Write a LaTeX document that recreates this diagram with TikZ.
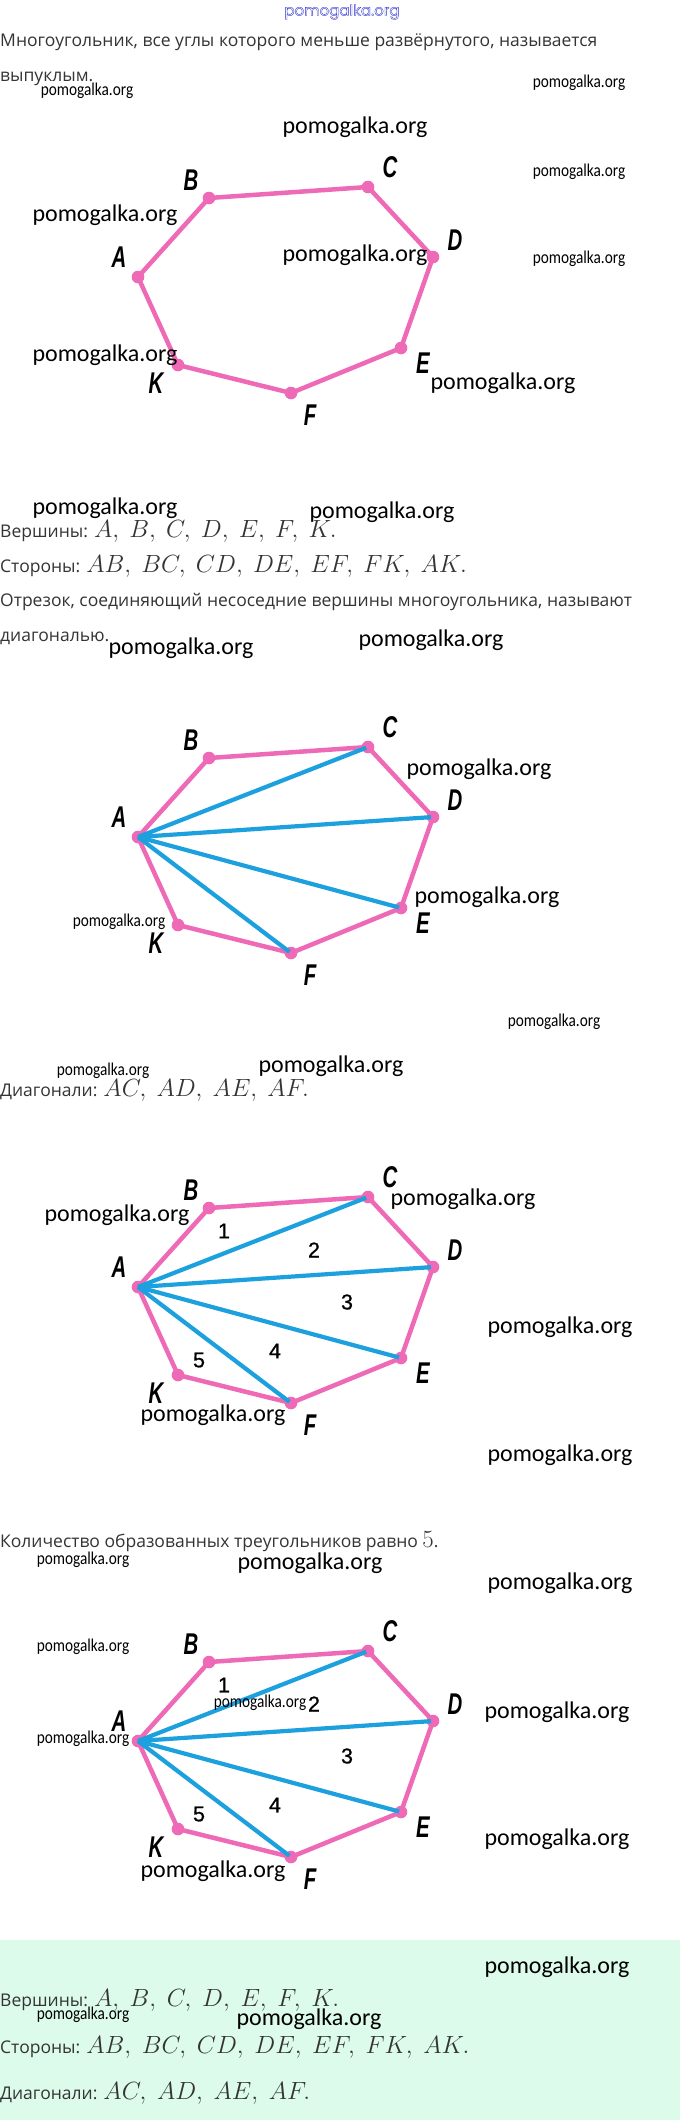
\documentclass[tikz,border=0pt]{standalone}
\usepackage{fontspec}
\setmainfont{Liberation Sans}
\newfontfamily\bodyfont{Open Sans}
\newfontfamily\wmfont{Carlito}
\newfontfamily\topfont{Poppins}
\newfontfamily\numfont[FakeBold=0.8]{Liberation Sans}
\usetikzlibrary{calc}
\definecolor{pinkc}{RGB}{238,106,182}
\definecolor{bluec}{RGB}{28,160,222}
\definecolor{textc}{RGB}{52,52,52}
\definecolor{mint}{RGB}{220,251,235}
\definecolor{topblue}{RGB}{40,40,210}
\tikzset{
  pinkline/.style={draw=pinkc,line width=4.5pt,line join=round},
  blueline/.style={draw=bluec,line width=4.2pt,shorten >=2pt},
  vdot/.style={fill=pinkc},
  vlabel/.style={inner sep=0,font=\fontsize{30}{32}\selectfont\bfseries\itshape},
  numlabel/.style={inner sep=0,font=\numfont\fontsize{21.5}{23}\selectfont},
  bodytext/.style={inner sep=0,anchor=west,text=textc,font=\bodyfont\fontsize{17.5}{20}\selectfont},
  wmbig/.style={inner sep=0,font=\wmfont\fontsize{24}{26}\selectfont},
  wmsmall/.style={inner sep=0,font=\wmfont\fontsize{18}{20}\selectfont}
}
\newcommand{\lbl}[1]{\scalebox{0.68}[1]{#1}}
\newcommand{\wms}{\scalebox{0.85}[1]{pomogalka.org}}
\newcommand{\mfs}{\fontsize{23.5}{25}\selectfont}
\newcommand{\mfg}{\fontsize{25.2}{27}\selectfont}
% #1 suffix, #2 y of A, #3 1 = diagonals
\newcommand{\drawpoly}[3]{%
\begin{scope}[shift={(138,#2)}]
  \coordinate (A#1) at (0,0);
  \coordinate (B#1) at (71,-79);
  \coordinate (C#1) at (230,-90);
  \coordinate (D#1) at (295,-20);
  \coordinate (E#1) at (263,71);
  \coordinate (F#1) at (153,116);
  \coordinate (K#1) at (40,88);
  \draw[pinkline] (A#1) -- (B#1) -- (C#1) -- (D#1) -- (E#1) -- (F#1) -- (K#1) -- cycle;
  \foreach \v in {A,B,C,D,E,F,K}{\fill[vdot] (\v#1) circle (6.3pt);}
  \ifnum#3=1
    \draw[blueline] (A#1) -- (C#1);
    \draw[blueline] (A#1) -- (D#1);
    \draw[blueline] (A#1) -- (E#1);
    \draw[blueline] (A#1) -- (F#1);
  \fi
  \node[vlabel] (lA#1) at (-19,-20) {\lbl{A}};
  \node[vlabel] (lB#1) at (53,-97) {\lbl{B}};
  \node[vlabel] (lC#1) at (252,-110) {\lbl{C}};
  \node[vlabel] (lD#1) at (317,-37) {\lbl{D}};
  \node[vlabel] (lE#1) at (285,86) {\lbl{E}};
  \node[vlabel] (lK#1) at (18,106) {\lbl{K}};
  \node[vlabel] (lF#1) at (172,138) {\lbl{F}};
\end{scope}}
\newcommand{\numbers}[2]{%
\begin{scope}[shift={(138,#2)}]
  \node[numlabel] (n1#1) at (86,-56) {1};
  \node[numlabel] (n2#1) at (176,-37) {2};
  \node[numlabel] (n3#1) at (209,15) {3};
  \node[numlabel] (n4#1) at (137,64) {4};
  \node[numlabel] (n5#1) at (61,73) {5};
\end{scope}}
\begin{document}
\begin{tikzpicture}[x=1pt,y=-1pt]
\useasboundingbox (0,0) rectangle (680,2120);
\fill[white] (0,0) rectangle (680,2120);
\fill[mint] (0,1940) rectangle (680,2120);

% top outlined watermark
\node[inner sep=0,text=topblue,font=\topfont\fontsize{15}{17}\selectfont] (toptitle) at (342,12)
  {\special{pdf:literal direct 0.16 0.16 0.82 RG 0.35 w 1 Tr}pomogalka.org\special{pdf:literal direct 0 Tr}};

% section 1
\node[bodytext] (t1) at (0,42) {Многоугольник, все углы которого меньше развёрнутого, называется};
\node[bodytext] (t2) at (0,79) {выпуклым.};
\drawpoly{1}{277}{0}
\node[bodytext] (t3) at (0,531) {Вершины: {\mfs$A,\ B,\ C,\ D,\ E,\ F,\ K.$}};
\node[bodytext] (t4) at (0,566) {Стороны: {\mfs$AB,\ BC,\ CD,\ DE,\ EF,\ FK,\ AK.$}};
\node[bodytext] (t5) at (0,602) {Отрезок, соединяющий несоседние вершины многоугольника, называют};
\node[bodytext] (t6) at (0,638) {диагональю.};

% section 2
\drawpoly{2}{837}{1}
\node[bodytext] (t7) at (0,1090) {Диагонали: {\mfs$AC,\ AD,\ AE,\ AF.$}};

% section 3
\drawpoly{3}{1287}{1}
\numbers{3}{1287}
\node[bodytext] (t8) at (0,1542) {Количество образованных треугольников равно {\mfs$5$}.};

% section 4
\drawpoly{4}{1741}{1}
\numbers{4}{1741}

% summary box
\node[bodytext] (s1) at (0,2000) {Вершины: {\mfg$A,\ B,\ C,\ D,\ E,\ F,\ K.$}};
\node[bodytext] (s2) at (0,2047) {Стороны: {\mfg$AB,\ BC,\ CD,\ DE,\ EF,\ FK,\ AK.$}};
\node[bodytext] (s3) at (0,2093) {Диагонали: {\mfg$AC,\ AD,\ AE,\ AF.$}};

% watermarks
\node[wmsmall] (w1) at (87,91) {\wms};
\node[wmsmall] (w2) at (579,83) {\wms};
\node[wmbig] (w3) at (355,127) {pomogalka.org};
\node[wmsmall] (w4) at (579,172) {\wms};
\node[wmbig] (w5) at (105,215) {pomogalka.org};
\node[wmbig] (w6) at (355,255) {pomogalka.org};
\node[wmsmall] (w7) at (579,259) {\wms};
\node[wmbig] (w8) at (105,355) {pomogalka.org};
\node[wmbig] (w9) at (503,383) {pomogalka.org};

\node[wmbig] (w10) at (105,508) {pomogalka.org};
\node[wmbig] (w11) at (382,512) {pomogalka.org};
\node[wmbig] (w12) at (181,648) {pomogalka.org};
\node[wmbig] (w13) at (431,640) {pomogalka.org};
\node[wmbig] (w14) at (479,769) {pomogalka.org};
\node[wmbig] (w15) at (487,897) {pomogalka.org};
\node[wmsmall] (w16) at (119,922) {\wms};
\node[wmsmall] (w17) at (554,1022) {\wms};
\node[wmsmall] (w18) at (103,1071) {\wms};
\node[wmbig] (w19) at (331,1066) {pomogalka.org};

\node[wmbig] (w20) at (117,1215) {pomogalka.org};
\node[wmbig] (w21) at (463,1199) {pomogalka.org};
\node[wmbig] (w22) at (560,1327) {pomogalka.org};
\node[wmbig] (w23) at (213,1415) {pomogalka.org};
\node[wmbig] (w24) at (560,1455) {pomogalka.org};
\node[wmsmall] (w25) at (83,1560) {\wms};
\node[wmbig] (w26) at (310,1563) {pomogalka.org};
\node[wmbig] (w27) at (560,1583) {pomogalka.org};

\node[wmsmall] (w28) at (83,1647) {\wms};
\node[wmsmall] (w29) at (260,1703) {\wms};
\node[wmsmall] (w30) at (83,1739) {\wms};
\node[wmbig] (w31) at (557,1712) {pomogalka.org};
\node[wmbig] (w32) at (557,1839) {pomogalka.org};
\node[wmbig] (w33) at (213,1871) {pomogalka.org};
\node[wmbig] (w34) at (557,1967) {pomogalka.org};
\node[wmsmall] (w35) at (83,2015) {\wms};
\node[wmbig] (w36) at (309,2019) {pomogalka.org};
\end{tikzpicture}
\end{document}
